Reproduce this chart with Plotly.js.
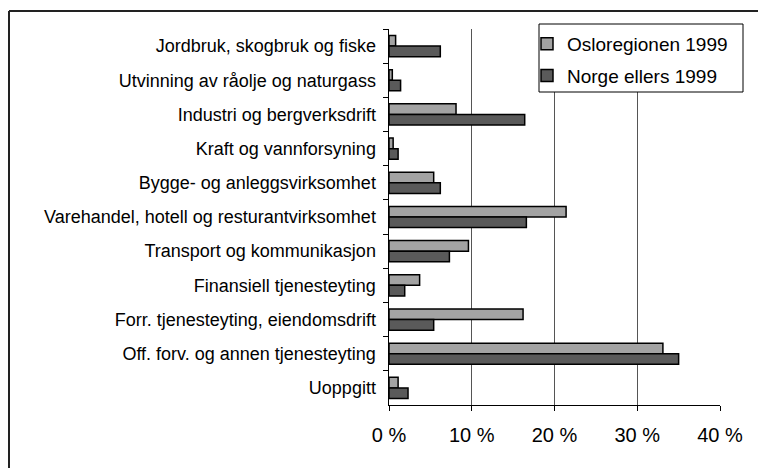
<!DOCTYPE html>
<html>
<head>
<meta charset="utf-8">
<script src="https://cdn.plot.ly/plotly-3.0.1.min.js"></script>
<style>html,body{margin:0;padding:0;background:#fff;}#chart{width:758px;height:468px;}</style>
</head>
<body>
<div id="chart"></div>
<script>
const categories = [
  "Jordbruk, skogbruk og fiske",
  "Utvinning av råolje og naturgass",
  "Industri og bergverksdrift",
  "Kraft og vannforsyning",
  "Bygge- og anleggsvirksomhet",
  "Varehandel, hotell og resturantvirksomhet",
  "Transport og kommunikasjon",
  "Finansiell tjenesteyting",
  "Forr. tjenesteyting, eiendomsdrift",
  "Off. forv. og annen tjenesteyting",
  "Uoppgitt"
];
const oslo1999 = [0.8, 0.4, 8.1, 0.5, 5.4, 21.4, 9.6, 3.7, 16.2, 33.1, 1.1];
const norge1999 = [6.2, 1.4, 16.4, 1.1, 6.2, 16.6, 7.3, 1.9, 5.4, 35.0, 2.3];
const xTicks = [0, 10, 20, 30, 40];
const xTickText = ["0 %", "10 %", "20 %", "30 %", "40 %"];

const W = 758, H = 468, L = 389, R = 38, T = 29, B = 63;
const pw = W - L - R, ph = H - T - B;
const px = v => (v - L) / pw;
const py = v => 1 - (v - T) / ph;

const font = "Liberation Sans, Arial, sans-serif";

const traces = [
  {type: "bar", orientation: "h", name: "Osloregionen 1999", y: categories, x: oslo1999,
   legendgroup: "a",
   marker: {color: "#a3a3a3", line: {color: "#000", width: 1.5}}},
  {type: "bar", orientation: "h", name: "Norge ellers 1999", y: categories, x: norge1999,
   legendgroup: "b",
   marker: {color: "#5a5a5a", line: {color: "#000", width: 1.5}}}
];

const layout = {
  width: W, height: H,
  margin: {l: L, r: R, t: T, b: B, pad: 0},
  paper_bgcolor: "#fff", plot_bgcolor: "#fff",
  barmode: "group", bargap: 0.38, bargroupgap: 0,
  font: {family: font, color: "#000", size: 16},
  showlegend: true,
  legend: {x: px(527), y: py(25), xanchor: "left", yanchor: "top",
    bgcolor: "rgba(0,0,0,0)", borderwidth: 0,
    font: {family: font, size: 19, color: "#000"}, traceorder: "grouped",
    itemwidth: 30, tracegroupgap: 4},
  xaxis: {range: [0, 40], tickvals: xTicks, ticktext: xTickText,
    showgrid: true, gridcolor: "#555", gridwidth: 1,
    showline: true, linecolor: "#000", linewidth: 1,
    ticks: "outside", ticklen: 5, tickcolor: "#000",
    tickfont: {family: font, size: 20, color: "#000"}, ticklabelstandoff: 7,
    zeroline: false, fixedrange: true},
  yaxis: {autorange: "reversed", type: "category",
    showline: true, linecolor: "#000", linewidth: 1.5,
    ticks: "outside", ticklen: 5, tickcolor: "#000", tickson: "boundaries",
    tickfont: {family: font, size: 18, color: "#000"}, ticklabelstandoff: 8,
    showgrid: false, zeroline: false, fixedrange: true},
  shapes: [
    {type: "line", xref: "paper", yref: "paper", x0: px(9), x1: px(770), y0: py(11), y1: py(11),
     line: {color: "#222", width: 2}},
    {type: "line", xref: "paper", yref: "paper", x0: px(9), x1: px(9), y0: py(11), y1: py(480),
     line: {color: "#222", width: 2}},
    {type: "rect", xref: "paper", yref: "paper", layer: "above",
     x0: px(539), x1: px(743), y0: py(24), y1: py(92),
     fillcolor: "#fff", line: {color: "#000", width: 1}}
  ]
};

Plotly.newPlot("chart", traces, layout, {displayModeBar: false, staticPlot: true});
</script>
</body>
</html>
